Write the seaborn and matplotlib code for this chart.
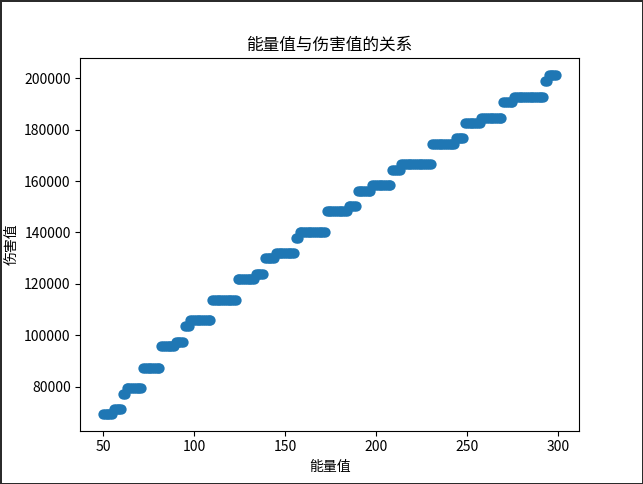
import numpy as np
import pandas as pd
import seaborn as sns
from matplotlib import pyplot as plt

plt.rcParams['font.family'] = ['Noto Sans CJK SC', 'DejaVu Sans']
plt.rcParams['axes.unicode_minus'] = False

# each step: first energy value, last energy value, damage value
step_start = [50, 56, 61, 63, 72, 82, 90, 95, 98, 110, 124, 134, 139, 145, 156,
              158, 173, 185, 190, 198, 209, 214, 231, 244, 249, 258, 270, 276, 293, 295]
step_end = [55, 60, 62, 71, 81, 89, 94, 97, 109, 123, 133, 138, 144, 155, 157,
            172, 184, 189, 197, 208, 213, 230, 243, 248, 257, 269, 275, 292, 294, 299]
step_damage = [69500, 71250, 77100, 79600, 87450, 95700, 97400, 103500, 105900, 113600,
               121800, 123800, 130200, 132000, 137900, 140300, 148200, 150200, 156300, 158400,
               164200, 166700, 174400, 176700, 182600, 184600, 190900, 192800, 198900, 201200]

energy = []
damage = []
for a, b, d in zip(step_start, step_end, step_damage):
    for e in range(a, b + 1):
        energy.append(e)
        damage.append(d)
df = pd.DataFrame({'energy': energy, 'damage': damage})

fig, ax = plt.subplots(figsize=(6.43, 4.84), dpi=100)
fig.patch.set_edgecolor('#2b2b2b')
fig.patch.set_linewidth(2)
sns.scatterplot(x='energy', y='damage', data=df, ax=ax, color='#1f77b4',
                s=55, linewidth=0)
ax.set_title('能量值与伤害值的关系')
ax.set_xlabel('能量值')
ax.set_ylabel('伤害值')
fig.savefig('out.png', dpi=100, edgecolor=fig.get_edgecolor())
plt.close()
